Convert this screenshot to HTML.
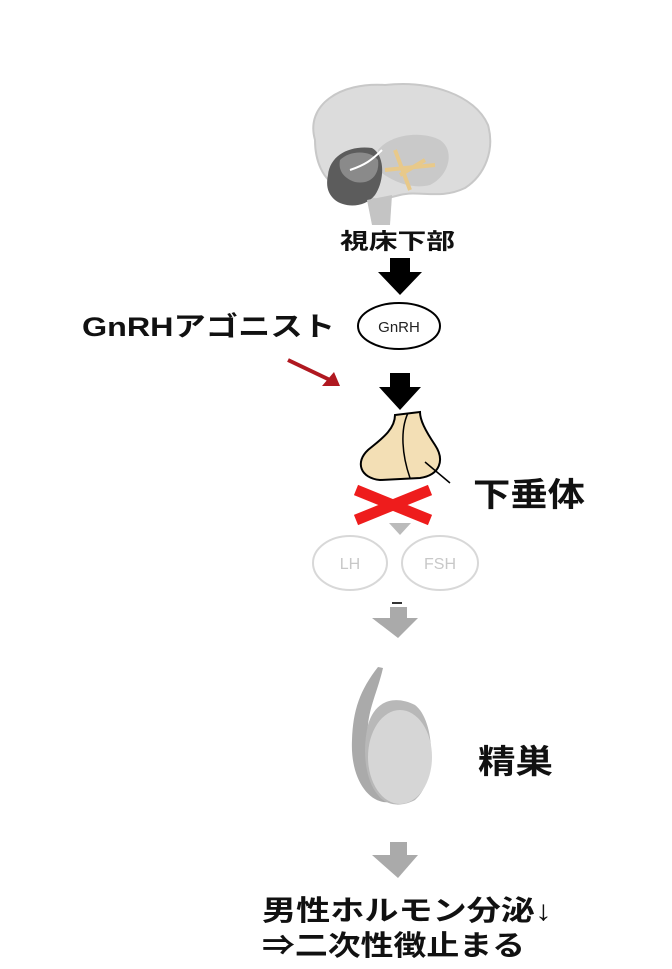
<!DOCTYPE html>
<html><head><meta charset="utf-8"><style>
html,body{margin:0;padding:0;background:#fff;}
svg{display:block}
text{font-family:"Liberation Sans","Noto Sans CJK JP",sans-serif;font-weight:bold;}
</style></head><body>
<svg width="672" height="969" viewBox="0 0 672 969" xmlns="http://www.w3.org/2000/svg">
<!-- brain -->
<path d="M315,140 C305,105 340,82 385,85 C430,80 475,95 488,125 C495,150 485,175 465,188 C440,200 420,190 400,195 L380,200 C370,200 362,190 340,188 C322,180 315,160 315,140Z" fill="#dcdcdc" stroke="#c8c8c8" stroke-width="2"/>
<path d="M378,150 C390,135 420,130 440,140 C455,150 450,175 430,185 C410,190 390,180 378,170Z" fill="#c9c9c9"/>
<path d="M328,175 C330,155 350,145 372,148 C385,155 385,180 375,195 C365,208 345,208 335,200 C327,193 326,185 328,175Z" fill="#5c5c5c"/>
<path d="M340,160 C350,150 370,150 378,160 C380,175 370,185 355,182 C343,178 338,170 340,160Z" fill="#8a8a8a"/>
<path d="M367,200 L372,225 L390,225 L392,195 Z" fill="#c4c4c4"/>
<path d="M395,150 L410,190 M385,170 L435,165 M400,175 L425,160" stroke="#e8c98a" stroke-width="4"/>
<path d="M350,170 C365,165 372,160 382,150" stroke="#fff" stroke-width="2" fill="none"/>
<text x="340" y="249" font-size="22" textLength="115" lengthAdjust="spacingAndGlyphs" fill="#111">視床下部</text>
<!-- arrow 1 -->
<path d="M390,258 H410 V272 H422 L400,295 L378,272 H390Z" fill="#000"/>
<ellipse cx="399" cy="326" rx="41" ry="23" fill="#fff" stroke="#000" stroke-width="2"/>
<text x="399" y="332" font-size="15" text-anchor="middle" fill="#222" style="font-weight:normal">GnRH</text>
<text x="82" y="336" font-size="27" textLength="253" lengthAdjust="spacingAndGlyphs" fill="#111">GnRHアゴニスト</text>
<!-- red arrow -->
<path d="M288,360 L330,380" stroke="#b01820" stroke-width="4"/>
<path d="M340,386 L322,386 L334,372 Z" fill="#b01820"/>
<!-- arrow 2 -->
<path d="M390,373 H410 V387 H421 L400,410 L379,387 H390Z" fill="#000"/>
<!-- pituitary -->
<path d="M395,415 C395,430 380,440 368,450 C355,462 360,478 380,480 L420,478 C440,475 445,460 435,445 C425,430 420,420 420,412 Z" fill="#f3dfb5" stroke="#000" stroke-width="2"/>
<path d="M408,413 C400,430 402,455 410,478" stroke="#000" stroke-width="1.5" fill="none"/>
<path d="M425,462 L450,483" stroke="#000" stroke-width="1.5"/>
<text x="473" y="506" font-size="33" textLength="112" lengthAdjust="spacingAndGlyphs" fill="#111">下垂体</text>
<!-- red X -->
<path d="M356,490 L430,520 M356,520 L430,490" stroke="#ee1c1c" stroke-width="11"/>
<path d="M389,523 H411 L400,535 Z" fill="#bbb"/>
<ellipse cx="350" cy="563" rx="37" ry="27" fill="none" stroke="#d8d8d8" stroke-width="2"/>
<ellipse cx="440" cy="563" rx="38" ry="27" fill="none" stroke="#d8d8d8" stroke-width="2"/>
<text x="350" y="569" font-size="16" text-anchor="middle" fill="#c8c8c8" style="font-weight:normal">LH</text>
<text x="440" y="569" font-size="16" text-anchor="middle" fill="#c8c8c8" style="font-weight:normal">FSH</text>
<rect x="392" y="602" width="10" height="2" fill="#333"/>
<path d="M390,607 H407 V618 H418 L398,638 L372,618 H390Z" fill="#aaa"/>
<!-- testis -->
<path d="M378,667 L383,668 C378,690 370,705 368,725 C365,760 370,790 390,802 C370,805 350,780 352,740 C353,710 360,690 378,667Z" fill="#aaa"/>
<path d="M368,725 C375,700 395,695 415,705 C435,720 438,780 415,800 C400,808 385,805 378,795 C365,780 362,750 368,725Z" fill="#b8b8b8"/>
<ellipse cx="400" cy="757" rx="32" ry="47" fill="#d6d6d6"/>
<text x="478" y="773" font-size="33" textLength="75" lengthAdjust="spacingAndGlyphs" fill="#111">精巣</text>
<path d="M390,842 H407 V855 H418 L398,878 L372,855 H390Z" fill="#aaa"/>
<text x="262" y="920" font-size="28" textLength="290" lengthAdjust="spacingAndGlyphs" fill="#111">男性ホルモン分泌↓</text>
<text x="262" y="955" font-size="28" textLength="263" lengthAdjust="spacingAndGlyphs" fill="#111">⇒二次性徴止まる</text>
</svg>
</body></html>
